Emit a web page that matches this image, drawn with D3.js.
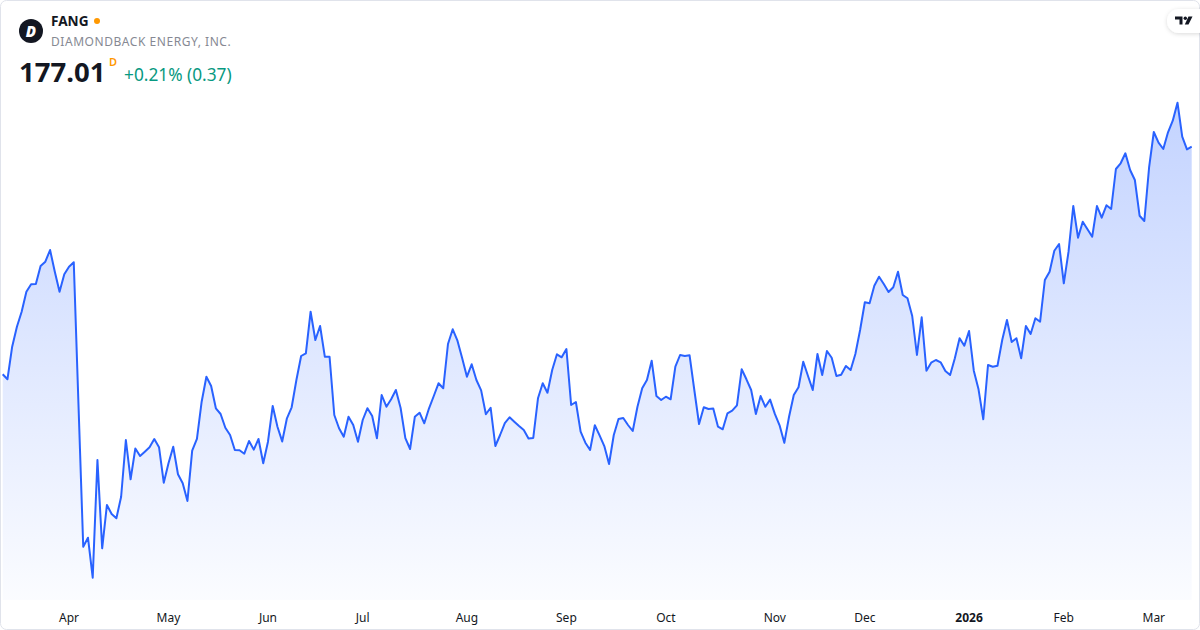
<!DOCTYPE html>
<html>
<head>
<meta charset="utf-8">
<script src="https://cdn.jsdelivr.net/npm/d3@7"></script>
<style>
  html, body { margin: 0; padding: 0; background: #fff; }
  svg { display: block; font-family: "Noto Sans", sans-serif; }
</style>
</head>
<body>
<svg id="chart"></svg>
<script>
const symbol = "FANG";
const companyName = "DIAMONDBACK ENERGY, INC.";
const lastPrice = "177.01";
const intervalMark = "D";
const changeText = "+0.21% (0.37)";

// daily closes, 12 Mar 2025 .. 12 Mar 2026 (one per trading day)
const closes = [
  145.15,144.45,149.01,151.81,153.91,156.71,157.75,157.80,160.31,160.91,
  162.55,159.51,156.71,159.15,160.21,160.83,140.85,121.01,122.27,116.67,
  133.15,120.79,126.85,125.59,124.99,128.01,135.95,130.45,134.76,133.71,
  134.31,134.93,136.09,134.95,129.97,132.69,135.01,131.15,129.90,127.41,
  134.45,136.10,141.31,144.81,143.51,140.39,139.59,137.67,136.65,134.55,
  134.51,134.03,135.81,134.60,136.09,132.70,135.71,140.71,137.81,135.75,
  138.99,140.53,144.35,147.71,148.09,153.91,149.95,151.91,147.61,147.60,
  139.45,137.59,136.41,139.21,138.05,135.70,138.75,140.40,139.31,136.19,
  142.25,140.61,141.65,142.95,140.43,136.20,134.69,139.20,139.77,138.29,
  140.39,142.11,143.89,143.19,149.39,151.45,149.85,147.39,144.81,146.55,
  144.35,142.90,139.55,140.47,135.11,136.65,138.30,139.13,138.51,137.91,
  137.35,136.16,136.23,141.79,143.89,142.57,145.75,147.95,147.53,148.69,
  140.85,141.27,137.11,135.57,134.55,138.01,136.60,135.10,132.59,136.65,
  138.89,139.03,138.05,137.21,140.61,143.19,144.35,147.05,142.11,141.55,
  142.01,141.65,146.21,147.85,147.71,147.80,142.95,138.19,140.53,140.29,
  140.35,137.81,137.45,139.69,140.05,140.81,145.85,144.45,142.95,139.59,
  142.10,140.60,141.60,139.60,138.00,135.55,139.21,142.25,143.33,146.91,
  144.91,142.95,147.99,145.05,148.41,147.47,144.90,145.09,146.31,145.75,
  147.99,151.35,155.23,155.09,157.55,158.81,157.79,156.67,157.33,159.51,
  156.25,155.79,153.31,147.85,153.13,145.65,146.77,147.15,146.83,145.60,
  145.05,147.39,150.19,149.15,151.21,145.65,143.05,138.85,146.45,146.21,
  146.35,149.95,152.75,149.67,150.20,147.39,151.91,150.79,152.99,152.51,
  158.35,159.51,162.45,163.39,157.89,162.31,168.71,164.27,166.51,165.45,
  164.41,168.71,167.07,168.81,168.29,173.89,174.69,176.09,173.75,172.35,
  167.35,166.61,174.07,179.07,177.57,176.69,179.03,180.65,183.17,178.41,
  176.64,177.01
];

// month ticks: label and the trading-day index where the month starts
const monthLabels = ["Apr","May","Jun","Jul","Aug","Sep","Oct","Nov","Dec","2026","Feb","Mar"];
const monthIndex  = [14, 35, 56, 76, 98, 119, 140, 163, 182, 204, 224, 243];
const yearLabels = ["2026"];

function chartConfig(){
    let width = 1200;
    let height = 630;
    let plot = {left: 2.7, right: 1191.7, top: 0, bottom: 600};
    let container = d3.select("#chart")
        .attr("width", width)
        .attr("height", height);
    return {width, height, plot, container};
}

function chartScales(config){
    let {plot} = config;
    let xScale = d3.scaleLinear()
        .domain([0, closes.length - 1])
        .range([plot.left, plot.right]);
    let yScale = d3.scaleLinear()
        .domain([113.55, 197.55])
        .range([plot.bottom, plot.top]);
    return {xScale, yScale};
}

function drawFrame(config){
    let {container, width, height} = config;
    container.append("rect")
        .attr("x", 0.5).attr("y", 0.5)
        .attr("width", width - 1).attr("height", height - 1)
        .attr("rx", 6)
        .attr("fill", "#ffffff")
        .attr("stroke", "#e0e3eb");
}

function drawSeries(config, scales){
    let {container, plot} = config;
    let {xScale, yScale} = scales;

    let defs = container.append("defs");
    let grad = defs.append("linearGradient")
        .attr("id", "areaFill")
        .attr("gradientUnits", "userSpaceOnUse")
        .attr("x1", 0).attr("x2", 0)
        .attr("y1", 100).attr("y2", plot.bottom);
    grad.append("stop").attr("offset", 0).attr("stop-color", "#2962ff").attr("stop-opacity", 0.28);
    grad.append("stop").attr("offset", 1).attr("stop-color", "#2962ff").attr("stop-opacity", 0.02);

    let area = d3.area()
        .x((d, i) => xScale(i))
        .y0(plot.bottom)
        .y1(d => yScale(d));
    let line = d3.line()
        .x((d, i) => xScale(i))
        .y(d => yScale(d));

    container.append("path")
        .datum(closes)
        .attr("d", area)
        .attr("fill", "url(#areaFill)");
    container.append("path")
        .datum(closes)
        .attr("d", line)
        .attr("fill", "none")
        .attr("stroke", "#2962ff")
        .attr("stroke-width", 2)
        .attr("stroke-linejoin", "round");
}

function drawAxis(config, scales){
    let {container} = config;
    let {xScale} = scales;
    container.append("g")
        .selectAll("text")
        .data(monthLabels)
        .enter().append("text")
        .attr("x", (d, i) => xScale(monthIndex[i]))
        .attr("y", 622)
        .attr("text-anchor", "middle")
        .attr("font-size", 12)
        .attr("font-weight", d => yearLabels.includes(d) ? 700 : 400)
        .attr("fill", "#131722")
        .text(d => d);
}

function drawHeader(config){
    let {container} = config;
    // company logo
    container.append("circle")
        .attr("cx", 31).attr("cy", 31).attr("r", 12)
        .attr("fill", "#131722");
    container.append("text")
        .attr("x", 31).attr("y", 36.5)
        .attr("text-anchor", "middle")
        .attr("font-size", 15).attr("font-weight", 900)
        .attr("font-style", "italic")
        .attr("fill", "#ffffff")
        .text("D");

    container.append("text")
        .attr("x", 51).attr("y", 26)
        .attr("font-size", 13.6).attr("font-weight", 700)
        .attr("fill", "#131722")
        .text(symbol);
    container.append("circle")
        .attr("cx", 97).attr("cy", 21).attr("r", 3)
        .attr("fill", "#ff9800");
    container.append("text")
        .attr("x", 51).attr("y", 45.5)
        .attr("font-size", 12)
        .attr("letter-spacing", 0.55)
        .attr("fill", "#868993")
        .text(companyName);

    container.append("text")
        .attr("x", 19).attr("y", 82)
        .attr("font-size", 27.5).attr("font-weight", 700)
        .attr("fill", "#131722")
        .text(lastPrice);
    container.append("text")
        .attr("x", 109).attr("y", 65.5)
        .attr("font-size", 11).attr("font-weight", 600)
        .attr("fill", "#ff9800")
        .text(intervalMark);
    container.append("text")
        .attr("x", 124).attr("y", 81)
        .attr("font-size", 17.3)
        .attr("fill", "#089981")
        .text(changeText);
}

function drawBrand(config){
    let {container} = config;
    let defs = container.select("defs");
    let f = defs.append("filter").attr("id", "pillShadow")
        .attr("x", "-30%").attr("y", "-30%").attr("width", "160%").attr("height", "160%");
    f.append("feDropShadow")
        .attr("dx", 0).attr("dy", 1).attr("stdDeviation", 2)
        .attr("flood-color", "#000").attr("flood-opacity", 0.15);
    container.append("rect")
        .attr("x", 1167).attr("y", 9).attr("width", 44).attr("height", 24)
        .attr("rx", 12)
        .attr("fill", "#ffffff")
        .attr("filter", "url(#pillShadow)");
    let g = container.append("g").attr("fill", "#131722");
    g.append("path").attr("d", "M1175,16.5 H1182.5 V24.5 H1179.5 V19.5 H1175 Z");
    g.append("circle").attr("cx", 1185.3).attr("cy", 18.3).attr("r", 1.7);
    g.append("path").attr("d", "M1188.5,16.5 H1192.5 L1188.5,24.5 H1184.8 Z");
}

function drawChart(){
    let config = chartConfig();
    let scales = chartScales(config);
    drawFrame(config);
    drawSeries(config, scales);
    drawAxis(config, scales);
    drawHeader(config);
    drawBrand(config);
}

drawChart();
</script>
</body>
</html>
